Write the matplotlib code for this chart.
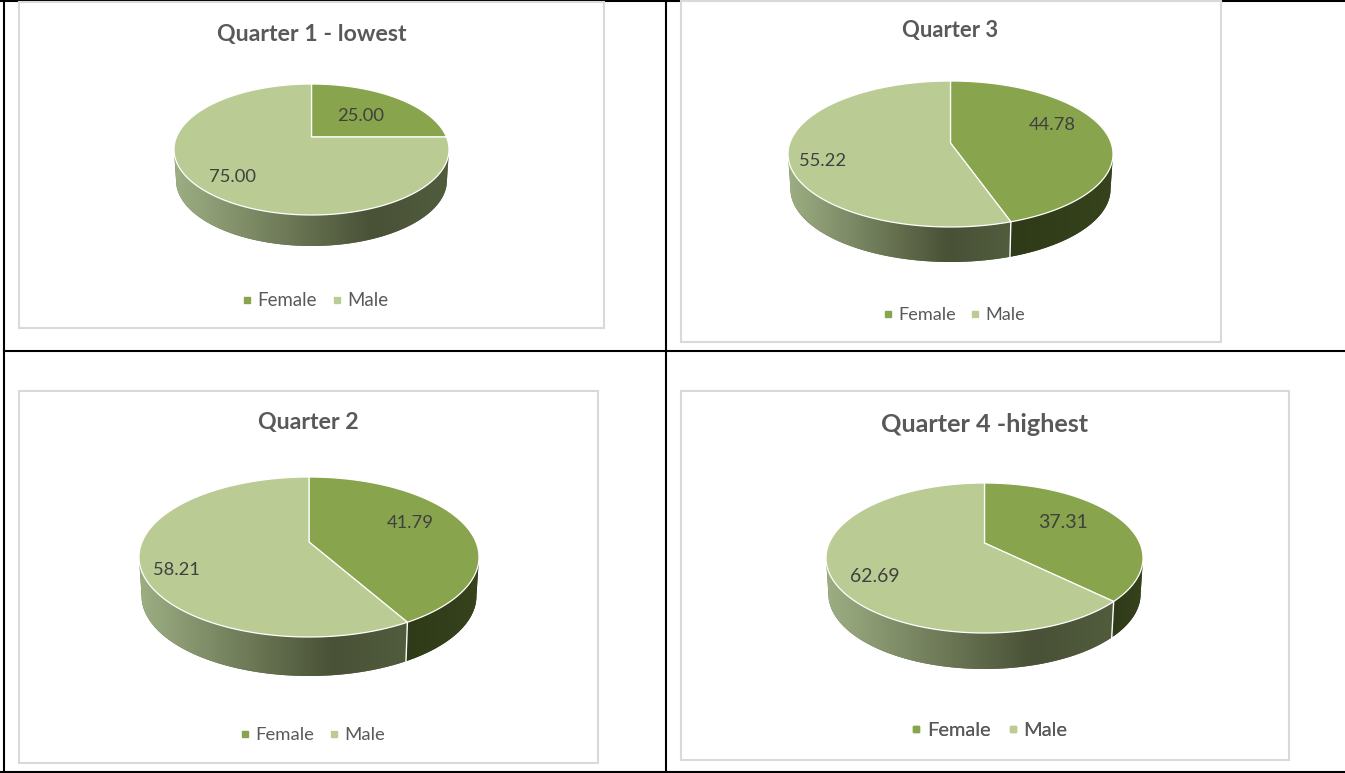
import matplotlib
matplotlib.use("Agg")
import matplotlib.pyplot as plt
from matplotlib.colors import LinearSegmentedColormap
from matplotlib.lines import Line2D
from matplotlib.path import Path
from matplotlib.patches import Rectangle
from matplotlib.transforms import Affine2D, Transform
import numpy as np

plt.rcParams['font.family'] = ['Lato', 'DejaVu Sans']

# data, panels in the order Q1, Q3, Q2, Q4 (left to right, top to bottom)
titles = ["Quarter 1 - lowest", "Quarter 3", "Quarter 2", "Quarter 4 -highest"]
female = [25.00, 44.78, 41.79, 37.31]
male = [75.00, 55.22, 58.21, 62.69]
legend_labels = ["Female", "Male"]

# layout, all in pixels of the 1345x773 picture
frames = [(19, 2, 604, 328), (681, 1, 1221, 342), (19, 391, 598, 763), (681, 391, 1289, 760)]
title_pos = [(312, 34), (950, 31), (308, 423), (985, 425)]
title_size = [16.7, 15.8, 16.7, 18.2]
# left, right, top, bottom of the top ellipse, y of the pie's centre, wall depth
pies = [(174, 449, 84, 215, 137, 31),
        (788, 1113, 81, 227, 143, 35),
        (139, 479, 477, 637, 542, 39),
        (826, 1143, 483, 633, 543, 36)]
female_label_pos = [(361, 116), (1052, 125), (410, 523), (1063, 523)]
male_label_pos = [(233, 177), (823, 161), (176, 570), (875, 577)]
label_size = [13.2, 13.2, 13.2, 14]
legend_pos = [(314.5, 301), (953.5, 315), (311.5, 735), (988.5, 730)]
legend_size = [13.4, 13.1, 13.3, 14.4]

FEMALE_CLR = "#88a44c"
MALE_CLR = "#bacc94"
TITLE_CLR = "#595959"
TEXT_CLR = "#404040"
male_wall = LinearSegmentedColormap.from_list(
    "male_wall", [(0, "#9dae83"), (0.72, "#495136"), (1, "#515c3d")])
female_wall = LinearSegmentedColormap.from_list("female_wall", ["#2f3a18", "#36431c"])


class Tilt(Transform):
    # perspective view of a unit circle lying flat, into picture pixels
    input_dims = 2
    output_dims = 2
    has_inverse = False

    def __init__(self, cx, cy, sx, sy, k):
        super().__init__()
        self.cx, self.cy, self.sx, self.sy, self.k = cx, cy, sx, sy, k

    def transform_non_affine(self, values):
        values = np.asarray(values)
        d = 1 + self.k * values[:, 1]
        return np.column_stack((self.cx + self.sx * values[:, 0] / d,
                                self.cy - self.sy * values[:, 1] / d))

    def transform_path_non_affine(self, path):
        # blow the path up first, otherwise to_polygons flattens the arc far too coarsely
        poly = path.to_polygons(Affine2D().scale(3000), closed_only=True)[0] / 3000
        return Path(self.transform_non_affine(poly), closed=True)


def rim(tilt, a, b, depth=0):
    # rim points, angles in degrees clockwise from the top
    t = np.radians(np.linspace(a, b, 200))
    pts = tilt.transform_non_affine(np.column_stack((np.sin(t), np.cos(t))))
    if depth:
        pts[:, 0] = tilt.cx + (pts[:, 0] - tilt.cx) * 0.985
        pts[:, 1] = pts[:, 1] + depth
    return pts


def draw_wall(ax, tilt, a, b, depth, cmap, x_from, x_to):
    top = rim(tilt, a, b)
    low = rim(tilt, b, a, depth)
    poly = ax.fill(np.r_[top[:, 0], low[:, 0]], np.r_[top[:, 1], low[:, 1]],
                   color=cmap(0.5), lw=0, zorder=1)[0]
    img = ax.imshow(np.linspace(0, 1, 256).reshape(1, -1), cmap=cmap, aspect="auto",
                    extent=[x_from, x_to, tilt.cy + 200, tilt.cy - 200], zorder=1.5)
    img.set_clip_path(poly)


fig = plt.figure(figsize=(13.45, 7.73), dpi=100)
ax = fig.add_axes([0, 0, 1, 1])

for i in range(4):
    x0, y0, x1, y1 = frames[i]
    ax.add_patch(Rectangle((x0, y0), x1 - x0, y1 - y0, fc="white", ec="#d9d9d9", lw=1.5, zorder=0.5))
    ax.text(title_pos[i][0], title_pos[i][1], titles[i], ha="center", va="center",
            fontsize=title_size[i], fontweight="bold", color=TITLE_CLR, zorder=5)

    left, right, top, bottom, cy, depth = pies[i]
    k = ((bottom - cy) - (cy - top)) / ((bottom - cy) + (cy - top))
    sx = (right - left) / 2 * np.sqrt(1 - k ** 2)
    sy = (bottom - top) / 2 * (1 - k ** 2)
    tilt = Tilt((left + right) / 2, cy, sx, sy, k)

    # side wall, only the front part of the rim shows
    split = 360 * female[i] / (female[i] + male[i])
    right_edge = 90 + np.degrees(np.arcsin(k))
    left_edge = 270 - np.degrees(np.arcsin(k))
    start = max(split, right_edge)
    x_split = rim(tilt, start, start)[0, 0]
    draw_wall(ax, tilt, start, left_edge, depth, male_wall, left, x_split)
    if split > right_edge:
        draw_wall(ax, tilt, right_edge, split, depth, female_wall, x_split, right)
        seam_top = rim(tilt, split, split)[0]
        seam_low = rim(tilt, split, split, depth)[0]
        ax.plot([seam_top[0], seam_low[0]], [seam_top[1], seam_low[1]], color="white", lw=1, zorder=2)

    wedges, _ = ax.pie([female[i], male[i]], colors=[FEMALE_CLR, MALE_CLR], startangle=90,
                       counterclock=False, wedgeprops=dict(edgecolor="white", linewidth=0.9))
    for w in wedges:
        w.set_transform(tilt + ax.transData)
        w.set_zorder(3)

    ax.text(*female_label_pos[i], "%.2f" % female[i], ha="center", va="center",
            fontsize=label_size[i], color=TEXT_CLR, zorder=5)
    ax.text(*male_label_pos[i], "%.2f" % male[i], ha="center", va="center",
            fontsize=label_size[i], color=TEXT_CLR, zorder=5)

    handles = [Line2D([], [], ls="", marker="s", ms=5, color=FEMALE_CLR),
               Line2D([], [], ls="", marker="s", ms=5, color=MALE_CLR)]
    leg = ax.legend(handles, legend_labels, loc="center", bbox_to_anchor=legend_pos[i],
                    bbox_transform=ax.transData, ncol=2, frameon=False, fontsize=legend_size[i],
                    labelcolor=TITLE_CLR, handlelength=0.7, handletextpad=0.2, columnspacing=0.72)
    leg.set_zorder(5)
    ax.add_artist(leg)

# table rules behind the charts
ax.plot([0, 1345], [0.5, 0.5], color="black", lw=1.5, zorder=0.2)
ax.plot([4, 1345], [351, 351], color="black", lw=1.5, zorder=0.2)
ax.plot([0, 1345], [771.5, 771.5], color="black", lw=1.5, zorder=0.2)
ax.plot([4, 4], [0, 773], color="black", lw=1.5, zorder=0.2)
ax.plot([666, 666], [0, 773], color="black", lw=1.5, zorder=0.2)

ax.set_aspect("auto")
ax.set_xlim(0, 1345)
ax.set_ylim(773, 0)
ax.axis("off")

plt.savefig("out.png", dpi=100)
